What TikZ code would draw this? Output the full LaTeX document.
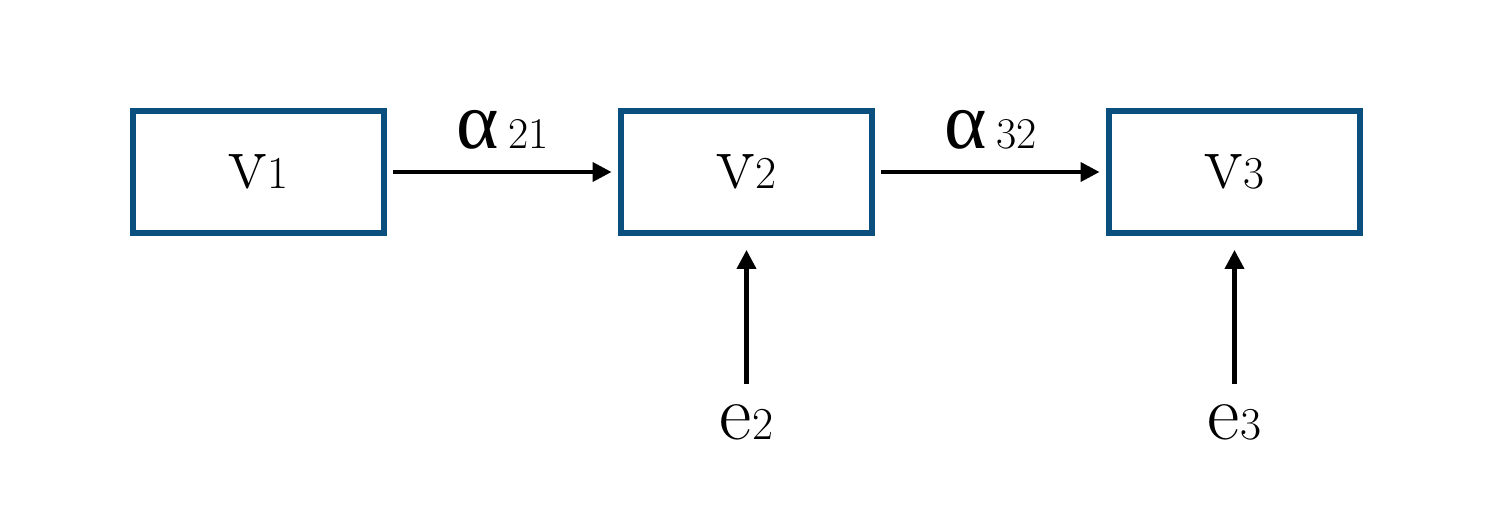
\documentclass[tikz,border=0pt]{standalone}
\usepackage{fontspec}
\newfontfamily\greekfont{Liberation Serif}
\usepackage{xcolor}
\usetikzlibrary{shapes.geometric, arrows.meta}
\definecolor{boxblue}{HTML}{0A4F7D}
\tikzstyle{block} = [rectangle, minimum width=5.02cm, minimum height=2.44cm, text centered, draw=boxblue, line width=3.4pt]
\tikzstyle{arrow} = [line width=2.3pt, -{Triangle[length=0.38cm, width=0.38cm]}, shorten <=0.13cm, shorten >=0.13cm]
\newcommand{\lbl}[2]{{\fontsize{45}{45}\selectfont #1}{\fontsize{26}{26}\selectfont #2}}
\newcommand{\wt}[1]{{\greekfont\fontsize{46}{46}\selectfont α}\hspace{0.2cm}{\fontsize{25}{25}\selectfont #1}}

\begin{document}
\begin{tikzpicture}[node distance=9.76cm]
   \useasboundingbox (0,0) rectangle (30.04,10.56);
   \node (v1) [block] at (5.17,7.12) {\lbl{v}{1}};
   \node (v2) [block, right of=v1] {\lbl{v}{2}};
   \node (v3) [block, right of=v2] {\lbl{v}{3}};
   \node (e2) [below of=v2, node distance=5cm] {\lbl{e}{2}};
   \node (e3) [below of=v3, node distance=5cm] {\lbl{e}{3}};
   \draw [arrow] (v1) -- node[above=0.3cm] {\wt{21}} (v2);
   \draw [arrow] (v2) -- node[above=0.3cm] {\wt{32}} (v3);
   \draw [arrow, shorten <=0.28cm, shorten >=0.28cm] (e2) -- (v2);
   \draw [arrow, shorten <=0.28cm, shorten >=0.28cm] (e3) -- (v3);
\end{tikzpicture}
\end{document}
